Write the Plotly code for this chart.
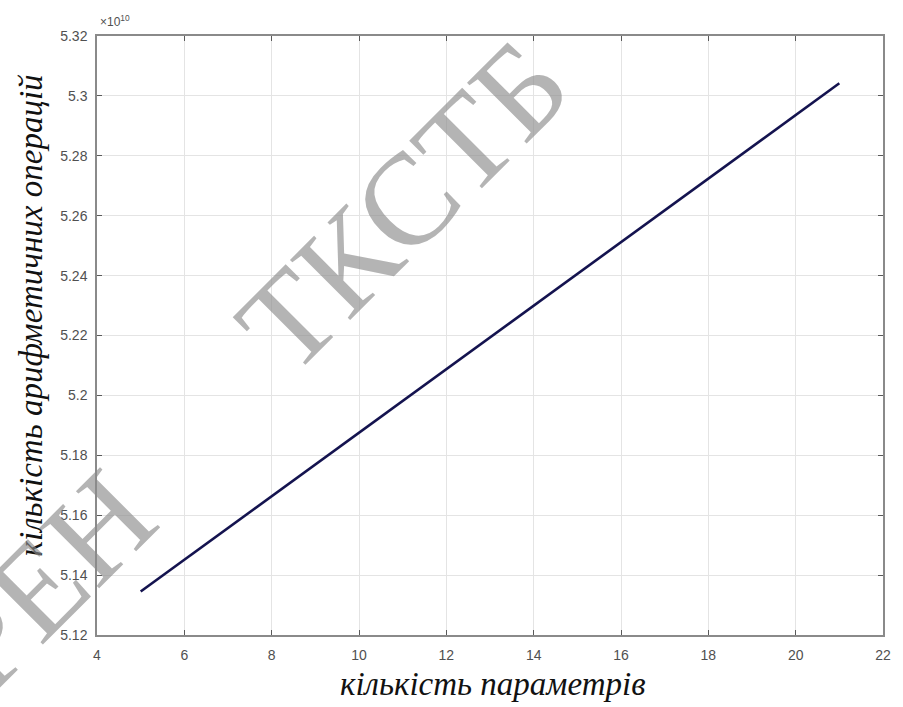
import plotly.graph_objects as go

# Number of parameters vs. number of arithmetic operations
params = [5, 21]
operations = [5.1345e10, 5.3042e10]

x_ticks = [4, 6, 8, 10, 12, 14, 16, 18, 20, 22]
y_ticks = [5.12, 5.14, 5.16, 5.18, 5.20, 5.22, 5.24, 5.26, 5.28, 5.30, 5.32]
y_tick_labels = ["5.12", "5.14", "5.16", "5.18", "5.2", "5.22", "5.24", "5.26", "5.28", "5.3", "5.32"]

W, H = 903, 707
L, R, T, B = 97, 15, 36, 72
pw, ph = W - L - R, H - T - B


def px(x, y):
    """Convert page pixel position to paper coordinates."""
    return (x - L) / pw, 1 - (y - T) / ph


tick_font = dict(family="Liberation Sans, Arial", size=14, color="#505050")
title_font = dict(family="Liberation Serif, Times New Roman", size=33, color="#111111")

fig = go.Figure()
fig.add_trace(go.Scatter(
    x=params, y=operations, mode="lines",
    line=dict(color="#14134f", width=2.6),
    showlegend=False,
))

axis_common = dict(
    showgrid=True, gridcolor="#e4e4e4", gridwidth=1,
    showline=True, linecolor="#8a8a8a", linewidth=1.5, mirror="ticks",
    ticks="inside", ticklen=5, tickcolor="#5a5a5a", tickwidth=1.2,
    zeroline=False, tickfont=tick_font,
)

fig.update_xaxes(range=[4, 22], tickvals=x_ticks, ticklabelstandoff=6, **axis_common)
fig.update_yaxes(range=[5.12e10, 5.32e10], tickvals=[v * 1e10 for v in y_ticks],
                 ticktext=y_tick_labels, ticklabelstandoff=5, **axis_common)

annotations = []

# Exponent marker above the y axis
ex, ey = px(98, 21)
annotations.append(dict(
    x=ex, y=ey, xref="paper", yref="paper", xanchor="left", yanchor="middle",
    text="×10<sup>10</sup>", showarrow=False,
    font=dict(family="Liberation Sans, Arial", size=12, color="#505050"),
))

# Axis titles
tx, ty = px(495, 684)
annotations.append(dict(
    x=tx, y=ty, xref="paper", yref="paper", xanchor="center", yanchor="middle",
    text="<i>кількість параметрів</i>", showarrow=False, font=title_font,
))
yx, yy = px(31, 315)
annotations.append(dict(
    x=yx, y=yy, xref="paper", yref="paper", xanchor="center", yanchor="middle",
    text="<i>кількість арифметичних операцій</i>", showarrow=False,
    textangle=-90, font=title_font,
))

# Watermark lettering
wm_font = dict(family="Liberation Serif, Times New Roman", size=130,
               color="rgba(140,140,140,0.65)")
wx, wy = px(405, 205)
annotations.append(dict(
    x=wx, y=wy, xref="paper", yref="paper", xanchor="center", yanchor="middle",
    text="ТКСТБ", showarrow=False, textangle=-45, font=wm_font,
))
hx, hy = px(45, 580)
annotations.append(dict(
    x=hx, y=hy, xref="paper", yref="paper", xanchor="center", yanchor="middle",
    text="РЕН", showarrow=False, textangle=-45, font=wm_font,
))

fig.update_layout(
    width=W, height=H,
    margin=dict(l=L, r=R, t=T, b=B),
    paper_bgcolor="white", plot_bgcolor="white",
    annotations=annotations,
)

fig.write_html("out.html")
